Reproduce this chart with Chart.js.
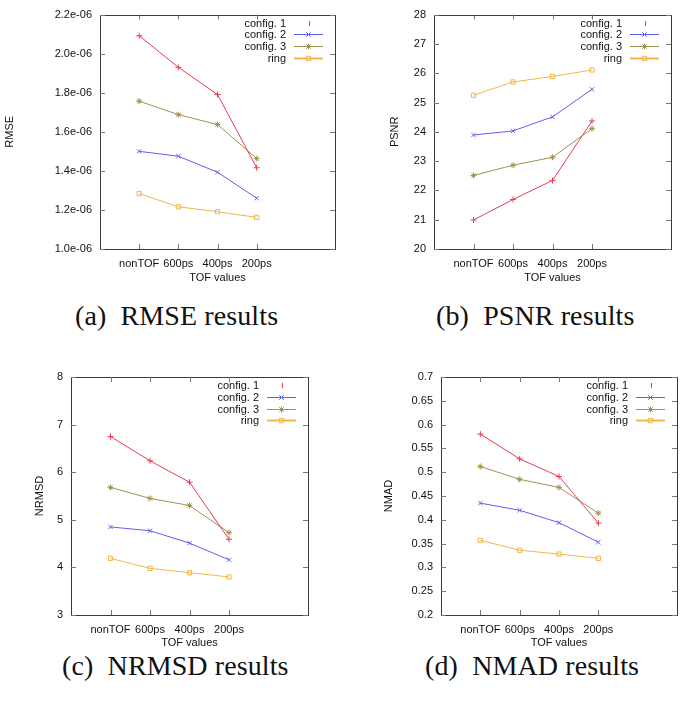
<!DOCTYPE html>
<html>
<head>
<meta charset="utf-8">
<script src="https://cdn.jsdelivr.net/npm/chart.js"></script>
<style>
  body { margin: 0; background: #fff; }
  #page { position: relative; width: 684px; height: 702px; overflow: hidden; }
  canvas { position: absolute; }
  .caption {
    position: absolute;
    font-family: "Liberation Serif", serif;
    font-size: 28px;
    line-height: 28px;
    letter-spacing: 0.1px;
    color: #111;
    white-space: pre;
  }
</style>
</head>
<body>
<div id="page">
  <canvas id="rmse" width="342" height="300" style="left:0;top:0"></canvas>
  <canvas id="psnr" width="342" height="300" style="left:342px;top:0"></canvas>
  <canvas id="nrmsd" width="342" height="300" style="left:0;top:350px"></canvas>
  <canvas id="nmad" width="342" height="300" style="left:342px;top:350px"></canvas>
  <div class="caption" style="left:75px;top:302px">(a)  RMSE results</div>
  <div class="caption" style="left:436px;top:302px">(b)  PSNR results</div>
  <div class="caption" style="left:62px;top:652px">(c)  NRMSD results</div>
  <div class="caption" style="left:425px;top:652px">(d)  NMAD results</div>
</div>
<script>
// x categories and series names
const tofLabels = ['nonTOF', '600ps', '400ps', '200ps'];
const seriesNames = ['config. 1', 'config. 2', 'config. 3', 'ring'];

// RMSE
const rmseConfig1 = [2.092e-6, 1.930e-6, 1.791e-6, 1.416e-6];
const rmseConfig2 = [1.500e-6, 1.475e-6, 1.393e-6, 1.260e-6];
const rmseConfig3 = [1.757e-6, 1.688e-6, 1.637e-6, 1.463e-6];
const rmseRing    = [1.284e-6, 1.216e-6, 1.191e-6, 1.162e-6];

// PSNR
const psnrConfig1 = [20.99, 21.69, 22.34, 24.37];
const psnrConfig2 = [23.89, 24.03, 24.51, 25.45];
const psnrConfig3 = [22.51, 22.86, 23.13, 24.11];
const psnrRing    = [25.25, 25.70, 25.89, 26.11];

// NRMSD
const nrmsdConfig1 = [6.75, 6.24, 5.79, 4.59];
const nrmsdConfig2 = [4.85, 4.77, 4.51, 4.16];
const nrmsdConfig3 = [5.68, 5.45, 5.30, 4.73];
const nrmsdRing    = [4.19, 3.98, 3.89, 3.80];

// NMAD
const nmadConfig1 = [0.580, 0.528, 0.491, 0.393];
const nmadConfig2 = [0.435, 0.420, 0.394, 0.353];
const nmadConfig3 = [0.512, 0.485, 0.468, 0.414];
const nmadRing    = [0.357, 0.336, 0.328, 0.319];

// y ranges: [min, max, step]
const rmseRange = [1.0e-6, 2.2e-6, 0.2e-6];
const psnrRange = [20, 28, 1];
const nrmsdRange = [3, 8, 1];
const nmadRange = [0.2, 0.7, 0.05];

const colors = ['rgb(232,60,84)', 'rgb(96,96,240)', 'rgb(160,146,84)', 'rgb(242,182,72)'];
const markers = ['cross', 'crossRot', 'star', 'rect'];
const FONT = "'Liberation Sans', Arial, sans-serif";

function drawMarker(ctx, style, x, y, r) {
  ctx.beginPath();
  if (style === 'cross' || style === 'star') {
    ctx.moveTo(x - r, y); ctx.lineTo(x + r, y);
    ctx.moveTo(x, y - r); ctx.lineTo(x, y + r);
  }
  if (style === 'crossRot' || style === 'star') {
    const d = r * 0.75;
    ctx.moveTo(x - d, y - d); ctx.lineTo(x + d, y + d);
    ctx.moveTo(x - d, y + d); ctx.lineTo(x + d, y - d);
  }
  if (style === 'rect') {
    ctx.rect(x - r * 0.75, y - r * 0.75, r * 1.5, r * 1.5);
  }
  ctx.stroke();
}

// gnuplot style frame, inward ticks and key
const gnuFrame = {
  id: 'gnuFrame',
  afterDatasetsDraw(chart) {
    const ctx = chart.ctx;
    const a = chart.chartArea;
    ctx.save();
    ctx.strokeStyle = '#3a3a3a';
    ctx.lineWidth = 1;
    ctx.strokeRect(Math.round(a.left) + 0.5, Math.round(a.top) + 0.5,
      Math.round(a.right - a.left), Math.round(a.bottom - a.top));
    ctx.strokeStyle = '#777';
    const ys = chart.scales.y;
    ys.ticks.forEach(t => {
      const py = Math.round(ys.getPixelForValue(t.value)) + 0.5;
      ctx.beginPath();
      ctx.moveTo(a.left, py); ctx.lineTo(a.left + 5, py);
      ctx.moveTo(a.right, py); ctx.lineTo(a.right - 5, py);
      ctx.stroke();
    });
    const xs = chart.scales.x;
    xs.ticks.forEach(t => {
      const px = Math.round(xs.getPixelForValue(t.value)) + 0.5;
      ctx.beginPath();
      ctx.moveTo(px, a.bottom); ctx.lineTo(px, a.bottom - 5);
      ctx.moveTo(px, a.top); ctx.lineTo(px, a.top + 5);
      ctx.stroke();
    });

    // key
    ctx.font = '11px ' + FONT;
    ctx.textAlign = 'right';
    ctx.textBaseline = 'middle';
    chart.data.datasets.forEach((ds, i) => {
      const y = Math.round(a.top + 8 + i * 11.8) + 0.5;
      ctx.fillStyle = '#111';
      ctx.fillText(ds.label, a.right - 49, y);
      const x1 = a.right - 41, x2 = a.right - 12, xm = (x1 + x2) / 2;
      ctx.strokeStyle = colors[i];
      if (i === 0) {
        ctx.beginPath();
        ctx.moveTo(Math.round(xm) + 0.5, y - 2.5); ctx.lineTo(Math.round(xm) + 0.5, y + 2.5);
        ctx.stroke();
        return;
      }
      ctx.lineWidth = i === 3 ? 2 : 1;
      ctx.beginPath();
      ctx.moveTo(x1, y); ctx.lineTo(x2, y);
      ctx.stroke();
      ctx.lineWidth = 1;
      drawMarker(ctx, ds.pointStyle, xm, y, 3);
    });
    ctx.restore();
  }
};

function makeChart(id, series, range, tickFmt, yTitle, box) {
  const datasets = series.map((vals, i) => ({
    label: seriesNames[i],
    data: vals.map((v, k) => ({ x: k + 1, y: v })),
    borderColor: colors[i],
    backgroundColor: 'transparent',
    borderWidth: 1,
    pointStyle: markers[i],
    pointRadius: 3,
    pointBorderWidth: 1,
    pointBackgroundColor: 'transparent',
    tension: 0
  }));
  return new Chart(document.getElementById(id), {
    type: 'line',
    data: { datasets },
    plugins: [gnuFrame],
    options: {
      responsive: false,
      animation: false,
      devicePixelRatio: 1,
      layout: { padding: { left: 0, top: box.top, right: box.right, bottom: box.bottom } },
      plugins: { legend: { display: false }, tooltip: { enabled: false } },
      scales: {
        x: {
          type: 'linear', min: 0, max: 6,
          afterBuildTicks: s => { s.ticks = tofLabels.map((_, k) => ({ value: k + 1 })); },
          afterFit: s => { s.height = box.xh; },
          grid: { display: false, drawTicks: false },
          border: { display: false },
          ticks: {
            autoSkip: false, maxRotation: 0, padding: 8,
            color: '#111', font: { family: FONT, size: 11 },
            callback: v => tofLabels[v - 1]
          },
          title: { display: true, text: 'TOF values', color: '#111',
            font: { family: FONT, size: 11 }, padding: { top: 0, bottom: 0 } }
        },
        y: {
          min: range[0], max: range[1],
          afterFit: s => { s.width = box.yw; },
          grid: { display: false, drawTicks: false },
          border: { display: false },
          ticks: {
            stepSize: range[2], padding: 8,
            color: '#111', font: { family: FONT, size: 11 },
            callback: tickFmt
          },
          title: { display: true, text: yTitle, color: '#111',
            font: { family: FONT, size: 11 }, padding: { top: box.tp, bottom: 0 } }
        }
      }
    }
  });
}

makeChart('rmse', [rmseConfig1, rmseConfig2, rmseConfig3, rmseRing], rmseRange,
  v => (v * 1e6).toFixed(1) + 'e-06', 'RMSE',
  { top: 13, right: 7, bottom: 15, xh: 36, yw: 100, tp: 3 });
makeChart('psnr', [psnrConfig1, psnrConfig2, psnrConfig3, psnrRing], psnrRange,
  v => String(Math.round(v)), 'PSNR',
  { top: 13, right: 13, bottom: 15, xh: 36, yw: 92, tp: 46 });
makeChart('nrmsd', [nrmsdConfig1, nrmsdConfig2, nrmsdConfig3, nrmsdRing], nrmsdRange,
  v => String(Math.round(v)), 'NRMSD',
  { top: 27, right: 34, bottom: 0, xh: 35, yw: 71, tp: 33 });
makeChart('nmad', [nmadConfig1, nmadConfig2, nmadConfig3, nmadRing], nmadRange,
  v => String(+v.toFixed(2)), 'NMAD',
  { top: 27, right: 7, bottom: 0, xh: 35, yw: 99, tp: 40 });
</script>
</body>
</html>
